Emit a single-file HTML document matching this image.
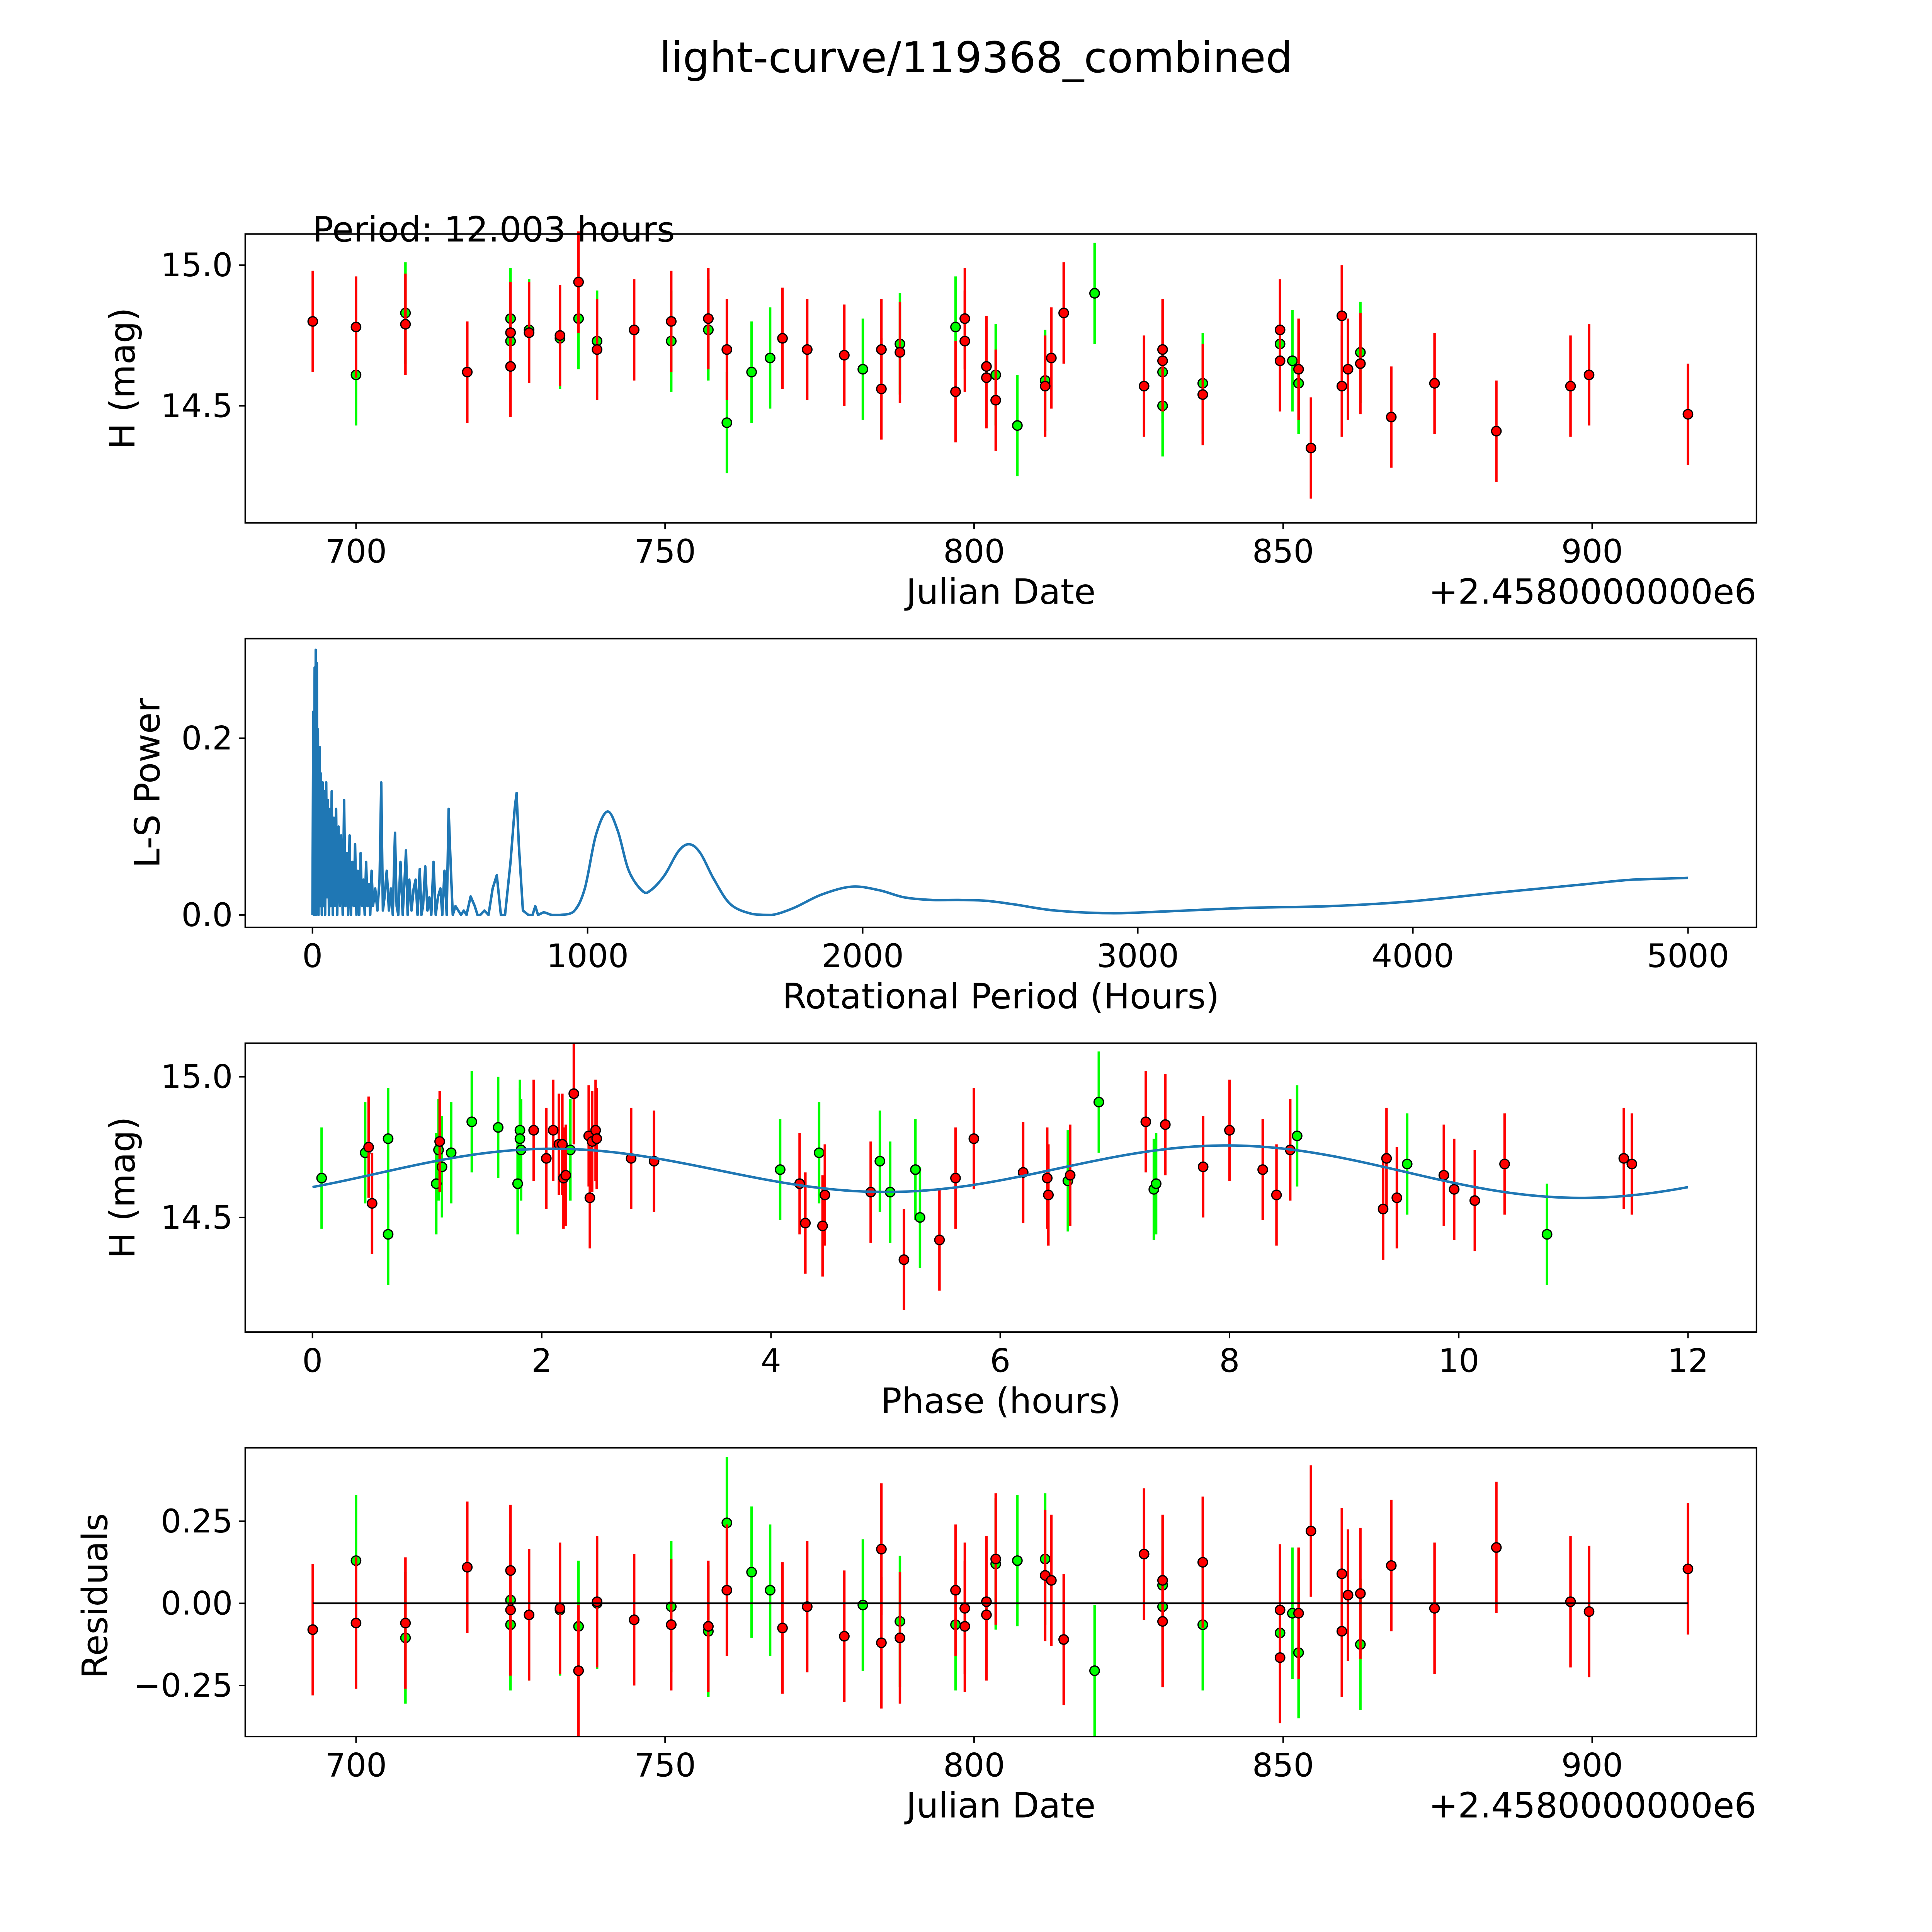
<!DOCTYPE html>
<html><head><meta charset="utf-8"><style>
html,body{margin:0;padding:0;background:#fff;overflow:hidden;width:100%;height:100%}
svg{display:block;width:100vw;height:100vh}
text{font-family:"DejaVu Sans","Liberation Sans",sans-serif;fill:#000}
</style></head>
<body>
<svg id="fig" xmlns="http://www.w3.org/2000/svg" viewBox="0 0 1552 1552" preserveAspectRatio="xMidYMid meet">
<rect x="0" y="0" width="1552" height="1552" fill="#fff"/>
<text x="784" y="58" font-size="34" text-anchor="middle">light-curve/119368_combined</text>
<g id="layer"></g>
</svg>
<script>
// ---- Data: light curve (top) ----
const redDates=[693,700,708,718,725,725,728,733,736,739,745,751,757,760,769,773,779,785,785,788,797,798.5,798.5,802,802,803.5,811.5,812.5,814.5,827.5,830.5,830.5,837,849.5,849.5,852.5,854.5,859.5,859.5,860.5,862.5,867.5,874.5,884.5,896.5,899.5,915.5];
const redMags=[14.80,14.78,14.79,14.62,14.64,14.76,14.76,14.75,14.94,14.70,14.77,14.80,14.81,14.70,14.74,14.70,14.68,14.70,14.56,14.69,14.55,14.81,14.73,14.64,14.60,14.52,14.57,14.67,14.83,14.57,14.70,14.66,14.54,14.77,14.66,14.63,14.35,14.82,14.57,14.63,14.65,14.46,14.58,14.41,14.57,14.61,14.47];
const greenDates=[700,708,725,725,728,733,736,739,751,757,760,764,767,782,788,797,803.5,807,811.5,819.5,830.5,830.5,837,849.5,851.5,852.5,862.5];
const greenMags=[14.61,14.83,14.81,14.73,14.77,14.74,14.81,14.73,14.73,14.77,14.44,14.62,14.67,14.63,14.72,14.78,14.61,14.43,14.59,14.90,14.62,14.50,14.58,14.72,14.66,14.58,14.69];
const magErr=0.18;
// ---- Periodogram ----
const periods=[0,3,5,8,10,12,14,16,18,20,22,26,28,31,34,37,40,43,46,50,53,56,60,63,66,70,74,78,82,86,90,95,100,104,110,115,120,125,130,135,140,145,150,155,160,165,170,175,180,185,190,195,200,205,210,215,220,228,236,244,250,256,262,270,278,285,292,300,306,312,320,328,335,340,346,352,360,368,375,382,390,396,402,410,418,425,432,440,448,456,465,472,480,488,495,502,510,520,530,540,550,560,575,590,600,610,625,640,655,670,685,700,720,735,742,750,765,785,800,810,820,840,870,900,950,990,1030,1072,1110,1150,1200,1230,1280,1330,1370,1410,1460,1520,1600,1670,1750,1850,1960,2060,2150,2250,2350,2450,2550,2700,2900,3100,3400,3700,3977,4300,4600,4800,5000];
const powers=[0,0.23,0,0.28,0.01,0.30,0,0.285,0.02,0.21,0,0.19,0.01,0.16,0,0.15,0.01,0.14,0,0.15,0.02,0.13,0,0.12,0.01,0.14,0,0.11,0.01,0.12,0,0.10,0.01,0.09,0,0.13,0.01,0.07,0,0.09,0,0.06,0.01,0.08,0,0.05,0,0.07,0.01,0.04,0,0.06,0.01,0.035,0,0.05,0.01,0.03,0.005,0.04,0.15,0.005,0.02,0.05,0.005,0.03,0,0.093,0.01,0.0,0.06,0.0,0.04,0.073,0.0,0.04,0.005,0.03,0.04,0.0,0.052,0.0,0.01,0.055,0.005,0.02,0.0,0.06,0.0,0.02,0.03,0.0,0.05,0.0,0.12,0.06,0.0,0.01,0.005,0.0,0.005,0.0,0.021,0.01,0.0,0.0,0.005,0.0,0.03,0.045,0.0,0.0,0.06,0.12,0.138,0.08,0.005,0.0,0.0,0.01,0.0,0.003,0.0,0.0,0.004,0.03,0.09,0.117,0.095,0.05,0.027,0.028,0.045,0.072,0.08,0.07,0.04,0.012,0.001,0.0,0.008,0.023,0.032,0.028,0.02,0.017,0.017,0.016,0.012,0.005,0.002,0.004,0.008,0.01,0.015,0.025,0.034,0.04,0.042];
// ---- Phased ----
const redPhase=[0.49,0.52,1.11,1.93,2.04,2.10,2.15,2.18,2.19,2.21,2.28,2.41,2.42,2.44,2.47,2.48,2.78,2.98,4.25,4.30,4.47,4.45,4.87,5.16,5.47,5.61,5.77,6.20,6.41,6.42,6.61,7.27,7.44,7.77,8.00,8.29,8.41,8.53,9.34,9.37,9.46,9.87,9.96,10.14,10.40,11.44,11.51];
const redPhaseMag=[14.75,14.55,14.77,14.81,14.71,14.81,14.76,14.76,14.64,14.65,14.94,14.79,14.57,14.77,14.81,14.78,14.71,14.70,14.62,14.48,14.58,14.47,14.59,14.35,14.42,14.64,14.78,14.66,14.64,14.58,14.65,14.84,14.83,14.68,14.81,14.67,14.58,14.74,14.53,14.71,14.57,14.65,14.60,14.56,14.69,14.71,14.69];
const greenPhase=[0.08,0.46,0.66,0.66,1.08,1.10,1.13,1.21,1.39,1.62,1.81,1.81,1.82,1.79,2.25,4.08,4.42,4.95,5.04,5.26,5.30,6.59,6.86,7.34,7.36,8.59,9.55,10.77];
const greenPhaseMag=[14.64,14.73,14.78,14.44,14.62,14.74,14.68,14.73,14.84,14.82,14.81,14.78,14.74,14.62,14.74,14.67,14.73,14.70,14.59,14.67,14.50,14.63,14.91,14.60,14.62,14.79,14.69,14.44];
// model fit: mean + harmonics (period 12h and 6h)
const modelMean=[14.665];
const modelCos=[-0.012,-0.045];
const modelSin=[0.0,0.072];
// ---- Residuals ----
const redResid=[-0.08,-0.06,-0.06,0.11,-0.02,0.10,-0.035,-0.015,-0.205,0.005,-0.05,-0.065,-0.07,0.04,-0.075,-0.01,-0.10,0.165,-0.12,-0.105,0.04,-0.015,-0.07,0.005,-0.035,0.135,0.085,0.07,-0.11,0.15,0.07,-0.055,0.125,-0.02,-0.165,-0.03,0.22,0.09,-0.085,0.025,0.03,0.115,-0.015,0.17,0.005,-0.025,0.105];
const greenResid=[0.13,-0.105,0.01,-0.065,-0.035,-0.02,-0.07,0.0,-0.01,-0.085,0.245,0.095,0.04,-0.005,-0.055,-0.065,0.12,0.13,0.135,-0.205,0.055,-0.01,-0.065,-0.09,-0.03,-0.15,-0.125];
const residErr=0.2;
const dateTicks=[700,750,800,850,900];
const periodTicks=[0,1000,2000,3000,4000,5000];
const phaseTicks=[0,2,4,6,8,10,12];

const NS='http://www.w3.org/2000/svg';
const layer=document.getElementById('layer');
function mk(tag,attrs,parent){const e=document.createElementNS(NS,tag);for(const k in attrs)e.setAttribute(k,attrs[k]);(parent||layer).appendChild(e);return e;}
function lin(d0,d1,p0,p1){return v=>p0+(v-d0)*(p1-p0)/(d1-d0);}

const L=197,R=1411;
function axesBox(name){
  const g=mk('g',{});
  
  
  return g;
}
function frame(g,top,bot){
  const r=mk('rect',{x:L,y:top,width:R-L,height:bot-top,fill:'none',stroke:'#000','stroke-width':1.2},g);
  
  
}
function xticks(g,ticks,sx,bot){
  ticks.forEach(t=>{
    const x=sx(t);
    mk('line',{x1:x,x2:x,y1:bot,y2:bot+5,stroke:'#000','stroke-width':1.2},g);
    const tx=mk('text',{x:x,y:bot+32,'font-size':26,'text-anchor':'middle'},g);
    tx.textContent=String(t);
    
    
  });
}
function yticks(g,ticks,labels,sy){
  ticks.forEach((t,i)=>{
    const y=sy(t);
    mk('line',{x1:L-5,x2:L,y1:y,y2:y,stroke:'#000','stroke-width':1.2},g);
    const tx=mk('text',{x:L-10,y:y+9,'font-size':26,'text-anchor':'end'},g);
    tx.textContent=labels[i];
    
    
  });
}
function label(g,txt,x,y,rot,name){
  const t=mk('text',{x:x,y:y,'font-size':28,'text-anchor':'middle'},g);
  if(rot)t.setAttribute('transform','rotate(-90 '+x+' '+y+')');
  t.textContent=txt;
  
  
}
function points(g,xs,ys,err,color,sx,sy,name){
  xs.forEach((d,i)=>{
    const x=sx(d);
    const l=mk('line',{x1:x,x2:x,y1:sy(ys[i]+err),y2:sy(ys[i]-err),stroke:color,'stroke-width':2},g);
    
    
  });
  xs.forEach((d,i)=>{
    const c=mk('circle',{cx:sx(d),cy:sy(ys[i]),r:3.8,fill:color,stroke:'#000','stroke-width':1},g);
    
    
  });
}

// Panel 1
{
  const top=188,bot=420;
  const g=axesBox('light-curve-panel');
  const sx=lin(700,900,286,1279), sy=lin(14.5,15.0,326,213);
  points(g,greenDates,greenMags,magErr,'#00ff00',sx,sy,'green-obs');
  points(g,redDates,redMags,magErr,'#ff0000',sx,sy,'red-obs');
  frame(g,top,bot);
  xticks(g,dateTicks,sx,bot);
  yticks(g,[14.5,15.0],['14.5','15.0'],sy);
  label(g,'Julian Date',804,485,false,'x-axis-title');
  label(g,'H (mag)',108,304,true,'y-axis-title');
  const off=mk('text',{x:R,y:485,'font-size':28,'text-anchor':'end'},g);
  off.textContent='+2.4580000000e6';
  
  
  const p=mk('text',{x:251,y:194,'font-size':28},g);
  p.textContent='Period: 12.003 hours';
  
  
}
// Panel 2
{
  const top=513,bot=745;
  const g=axesBox('periodogram-panel');
  const sx=lin(0,5000,251,1356), sy=lin(0,0.2,735,593);
  const X=periods.map(sx), Y=powers.map(sy);
  let d='M'+X[0].toFixed(2)+','+Y[0].toFixed(2);
  for(let i=1;i<X.length;i++){
    if(periods[i]>=850 && i+1<X.length){
      const i0=i-2>=0?i-2:0, i1=i-1, i3=i+1<X.length?i+1:i;
      const c1x=X[i1]+(X[i]-X[i0])/6, c1y=Y[i1]+(Y[i]-Y[i0])/6;
      const c2x=X[i]-(X[i3]-X[i1])/6, c2y=Y[i]-(Y[i3]-Y[i1])/6;
      d+='C'+c1x.toFixed(2)+','+Math.min(c1y,735).toFixed(2)+' '+c2x.toFixed(2)+','+Math.min(c2y,735).toFixed(2)+' '+X[i].toFixed(2)+','+Y[i].toFixed(2);
    } else d+='L'+X[i].toFixed(2)+','+Y[i].toFixed(2);
  }
  const pl=mk('path',{d:d,fill:'none',stroke:'#1f77b4','stroke-width':2,'stroke-linejoin':'round'},g);
  
  
  frame(g,top,bot);
  xticks(g,periodTicks,sx,bot);
  yticks(g,[0,0.2],['0.0','0.2'],sy);
  label(g,'Rotational Period (Hours)',804,810,false,'x-axis-title');
  label(g,'L-S Power',128,629,true,'y-axis-title');
}
// Panel 3
{
  const top=838,bot=1070;
  const g=axesBox('phased-panel');
  const sx=lin(0,12,251,1356), sy=lin(14.5,15.0,978,865);
  const model=t=>{let v=modelMean[0];for(let k=0;k<modelCos.length;k++){const w=2*Math.PI*(k+1)/12.003;v+=modelCos[k]*Math.cos(w*t)+modelSin[k]*Math.sin(w*t);}return v;};
  let d='';
  for(let i=0;i<=240;i++){const t=12*i/240;d+=(i?'L':'M')+sx(t).toFixed(2)+','+sy(model(t)).toFixed(2);}
  points(g,greenPhase,greenPhaseMag,magErr,'#00ff00',sx,sy,'green-phased');
  points(g,redPhase,redPhaseMag,magErr,'#ff0000',sx,sy,'red-phased');
  const m=mk('path',{d:d,fill:'none',stroke:'#1f77b4','stroke-width':2},g);
  
  
  frame(g,top,bot);
  xticks(g,phaseTicks,sx,bot);
  yticks(g,[14.5,15.0],['14.5','15.0'],sy);
  label(g,'Phase (hours)',804,1135,false,'x-axis-title');
  label(g,'H (mag)',108,954,true,'y-axis-title');
}
// Panel 4
{
  const top=1163,bot=1395;
  const g=axesBox('residuals-panel');
  const sx=lin(700,900,286,1279), sy=lin(0,0.25,1288,1222);
  points(g,greenDates,greenResid,residErr,'#00ff00',sx,sy,'green-resid');
  points(g,redDates,redResid,residErr,'#ff0000',sx,sy,'red-resid');
  const z=mk('line',{x1:sx(693),x2:sx(915.5),y1:sy(0),y2:sy(0),stroke:'#000','stroke-width':1.5},g);
  
  
  frame(g,top,bot);
  xticks(g,dateTicks,sx,bot);
  yticks(g,[0.25,0,-0.25],['0.25','0.00','\u22120.25'],sy);
  label(g,'Julian Date',804,1460,false,'x-axis-title');
  label(g,'Residuals',86,1282,true,'y-axis-title');
  const off=mk('text',{x:R,y:1460,'font-size':28,'text-anchor':'end'},g);
  off.textContent='+2.4580000000e6';
  
  
}
</script>
</body></html>
